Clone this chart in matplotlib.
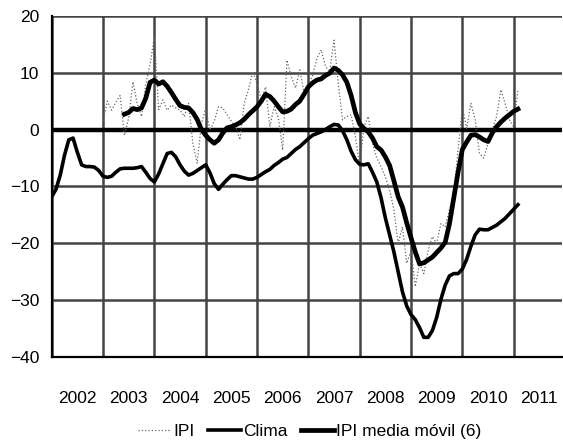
import numpy as np
import matplotlib.pyplot as plt

# ---------------- Data (monthly) ----------------
years = [2002, 2003, 2004, 2005, 2006, 2007, 2008, 2009, 2010, 2011]
yticks = [-40, -30, -20, -10, 0, 10, 20]

# Clima: Jan 2002 - Feb 2011
clima = [-11.8, -10.5, -8.0, -4.5, -1.8, -1.5, -4.0, -6.2, -6.5, -6.5, -6.6, -7.2,
         -8.2, -8.4, -8.2, -7.5, -6.9, -6.8, -6.8, -6.8, -6.7, -6.5, -7.5, -8.6,
         -9.2, -7.8, -6.0, -4.2, -4.0, -4.8, -6.2, -7.3, -8.0, -7.7, -7.2, -6.7,
         -6.2, -7.6, -9.5, -10.5, -9.6, -8.8, -8.1, -8.1, -8.3, -8.5, -8.7, -8.7,
         -8.4, -7.9, -7.4, -7.0, -6.3, -5.8, -5.2, -4.9, -4.2, -3.5, -3.0, -2.3,
         -1.6, -1.0, -0.7, -0.4, 0.0, 0.5, 0.9, 0.8, -0.2, -1.8, -3.8, -5.3,
         -6.1, -6.2, -6.0, -7.5, -9.2, -12.0, -15.5, -18.5, -21.5, -25.0, -28.5, -31.0,
         -32.5, -33.4, -34.8, -36.5, -36.5, -35.3, -33.0, -29.8, -27.3, -25.7, -25.3, -25.3,
         -24.5, -22.8, -20.5, -18.5, -17.5, -17.6, -17.6, -17.2, -16.8, -16.2, -15.6, -14.8,
         -14.0, -13.2]

# IPI: Jan 2003 - Feb 2011
ipi = [1.5, 5.0, 3.4, 4.8, 6.0, -1.0, 2.0, 8.4, 4.5, 2.3, 8.0, 11.4,
       16.3, 3.5, 5.2, 3.4, 4.3, 3.8, 3.4, 2.3, 4.6, -2.4, -5.9, 1.0,
       3.7, -0.1, 1.5, 4.0, 3.8, 2.6, 1.5, 0.5, -1.8, 4.6, 7.0, 10.2,
       8.1, 5.2, 7.5, 0.5, 4.0, 2.0, -3.6, 12.2, 9.3, 7.3, 10.5, 6.4,
       8.0, 9.5, 12.5, 14.0, 11.1, 10.2, 15.7, 8.1, 1.7, 2.3, 2.6, -1.2,
       -6.5, 0.5, 2.3, -2.4, -5.0, -6.5, -8.3, -10.6, -14.1, -20.0, -17.1, -23.5,
       -21.2, -27.6, -23.5, -25.3, -21.2, -18.8, -20.0, -16.5, -17.1, -14.0, -11.2, -3.6,
       4.0, 0.2, 4.6, 1.7, -4.2, -5.0, -2.4, -0.1, 2.3, 7.0, 4.6, 1.7,
       0.5, 7.0]

# IPI media movil (6): Jun 2003 - Feb 2011
ipi_mm6 = [2.7, 3.0, 3.7, 3.5, 3.8, 5.5, 8.3,
           8.7, 8.0, 8.4, 7.6, 6.5, 5.3, 4.2, 3.9, 3.8, 3.0, 1.8, 0.0,
           -1.0, -1.8, -2.4, -1.8, -0.6, 0.3, 0.5, 0.8, 1.2, 1.8, 2.6, 3.3,
           4.0, 5.0, 6.2, 5.8, 5.0, 4.0, 3.1, 3.2, 3.6, 4.4, 5.0, 6.2,
           7.5, 8.2, 8.7, 8.9, 9.5, 9.9, 10.8, 10.4, 9.6, 8.3, 6.0, 3.0,
           1.0, 0.2, -0.4, -1.5, -3.0, -3.6, -4.8, -6.3, -9.0, -11.8, -13.6, -16.4,
           -19.0, -21.5, -23.6, -23.4, -22.9, -22.4, -21.6, -20.8, -19.8, -16.5, -12.0, -7.5,
           -3.5, -2.2, -1.0, -0.9, -1.3, -1.8, -2.1, -0.6, 0.5, 1.3, 2.0, 2.6,
           3.2, 3.6]

x_clima = 2002 + np.arange(len(clima)) / 12
x_ipi = 2003 + np.arange(len(ipi)) / 12
x_mm = 2003 + 5 / 12 + np.arange(len(ipi_mm6)) / 12

# ---------------- Figure ----------------
plt.rcParams['font.family'] = ['Liberation Sans', 'DejaVu Sans']
fig, ax = plt.subplots(figsize=(5.63, 4.47), dpi=100)
fig.subplots_adjust(left=0.0918, bottom=0.2007, right=0.999, top=0.9649)

ax.plot(x_ipi, ipi, color='#666666', lw=0.9, ls=':', label='IPI', zorder=3)
ax.plot(x_clima, clima, color='black', lw=2.6, label='Clima', zorder=4)
ax.plot(x_mm, ipi_mm6, color='black', lw=3.4, label='IPI media móvil (6)', zorder=5)
ax.axhline(0, color='black', lw=3.2, zorder=2.5)

ax.set_xlim(2002, 2011.95)
ax.set_ylim(-40, 20)
ax.set_yticks(yticks)
ax.set_xticks(years, labels=[str(y) for y in years])
ax.set_xticks([y + 0.5 for y in years], minor=True)
ax.grid(True, axis='both', which='major', color='#444444', linewidth=1.8)
ax.set_axisbelow(True)

# year labels centred between grid lines
ax.tick_params(axis='both', which='both', length=0, labelsize=12.5)
ax.tick_params(axis='x', which='major', labelbottom=False)
ax.xaxis.set_minor_formatter(plt.FuncFormatter(lambda v, p: str(int(v))))
ax.tick_params(axis='x', which='minor', pad=24)
ax.tick_params(axis='y', pad=9)

for s in ['top', 'right']:
    ax.spines[s].set_visible(False)
ax.spines['left'].set_linewidth(1.6)
ax.spines['bottom'].set_linewidth(1.6)

fig.legend(loc='center', bbox_to_anchor=(0.55, 0.034), ncol=3, frameon=False,
           fontsize=12.5, handlelength=1.9, handletextpad=0.1, columnspacing=0.8)

fig.savefig('out.png', dpi=100)
